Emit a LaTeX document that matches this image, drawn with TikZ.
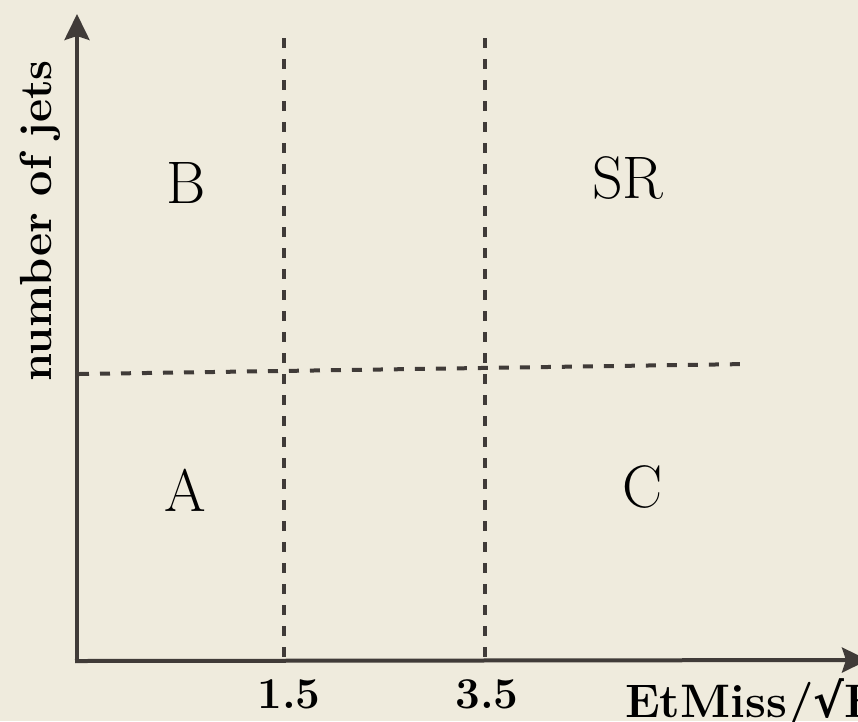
\documentclass[tikz,border=0pt]{standalone}
\usepackage{fontspec}
\newfontfamily\symfont{DejaVu Serif}
\usetikzlibrary{arrows.meta}
\definecolor{bg}{RGB}{239,235,221}
\definecolor{ink}{RGB}{64,59,56}
\begin{document}
\begin{tikzpicture}[x=1pt,y=-1pt,
  axis/.style={draw=ink,line width=4pt,-{Stealth[length=26pt,width=25pt,inset=4pt]}},
  divider/.style={draw=ink,line width=4pt,dash pattern=on 10pt off 11pt},
  region/.style={font=\fontsize{60}{60}\selectfont,text=black,inner sep=0pt},
  tick/.style={font=\bfseries\fontsize{44}{44}\selectfont,text=black,inner sep=0pt},
  axlabel/.style={font=\bfseries\fontsize{45}{45}\selectfont,text=black,inner sep=0pt}]
\useasboundingbox (0,0) rectangle (858,721);
\clip (0,0) rectangle (858,721);
\fill[bg] (0,0) rectangle (858,721);
% axes
\coordinate (O) at (77,663);
\coordinate (Ox) at (75,661);
\coordinate (ytip) at (77,14);
\coordinate (xtip) at (868,660);
\draw[axis] (O) -- (ytip);
\draw[axis] (Ox) -- (xtip);
% dividers
\coordinate (v1t) at (284,38);
\coordinate (v1b) at (284,659);
\coordinate (v2t) at (485,38);
\coordinate (v2b) at (485,659);
\coordinate (hl) at (79,374);
\coordinate (hr) at (748,364);
\draw[divider] (v1t) -- (v1b);
\draw[divider] (v2t) -- (v2b);
\draw[divider] (hl) -- (hr);
% region labels
\node[region] (B) at (186,183) {B};
\node[region] (SR) at (628,178) {SR};
\node[region] (A) at (185,490) {A};
\node[region] (C) at (643,487) {C};
% tick labels
\node[tick] (t1) at (289,694) {1.5};
\node[tick] (t2) at (487,694) {3.5};
% axis labels
\node[axlabel,rotate=90] (ylab) at (40,221) {number of jets};
\node[axlabel,anchor=base west,font=\bfseries\fontsize{47}{47}\selectfont] (xlab) at (625,717) {EtMiss/{\symfont\bfseries √}H};
\end{tikzpicture}
\end{document}
